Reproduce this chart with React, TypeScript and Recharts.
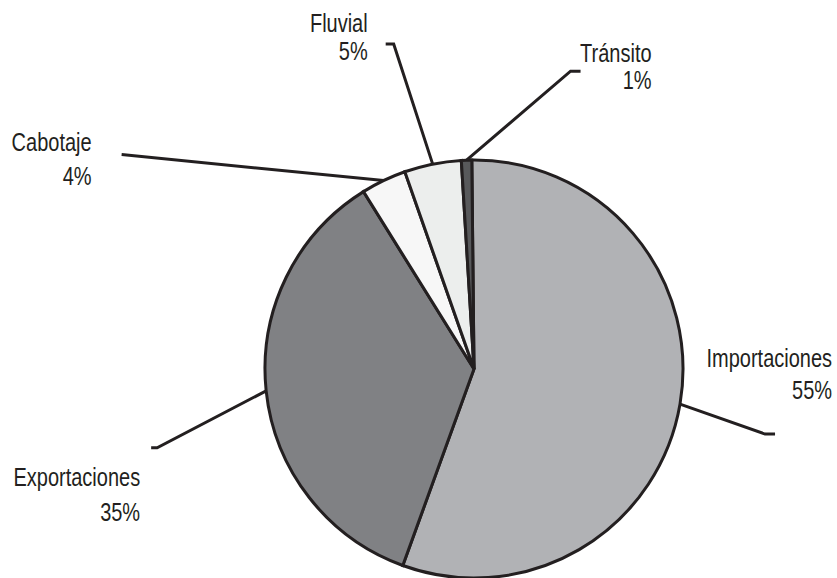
import { Cell, Pie, PieChart } from "recharts";

const categories = ["Importaciones", "Exportaciones", "Cabotaje", "Fluvial", "Tránsito"];
const shares = [55.7, 35.6, 3.5, 4.4, 0.8];
const shareLabels = ["55%", "35%", "4%", "5%", "1%"];

const fills = ["#b1b2b5", "#808184", "#f7f7f7", "#eceeed", "#58595b"];
const stroke = "#231f20";

// leader-line geometry, offsets from the point where the slice's mid-angle meets the rim
const leaders = [
  { elbow: [85, 30], end: [95, 30], textX: 152, lines: [-37, -5] },
  { elbow: [-109, 57], end: [-115, 57], textX: -126, lines: [95, 130] },
  { elbow: [-262, -26], end: [-262, -26], textX: -292, lines: [-30, 4] },
  { elbow: [-39, -120], end: [-47, -120], textX: -65, lines: [-132, -104] },
  { elbow: [104, -89], end: [114, -89], textX: 185, lines: [-98, -71] }
];

const data = categories.map((name, i) => ({ name, value: shares[i], pct: shareLabels[i] }));

const RAD = Math.PI / 180;
const SQUEEZE = 0.8; // condensed look from a regular sans

interface LabelProps {
  cx: number;
  cy: number;
  midAngle: number;
  outerRadius: number;
  index: number;
}

function LeaderLabel({ cx, cy, midAngle, outerRadius, index }: LabelProps) {
  const g = leaders[index];
  const px = cx + outerRadius * Math.cos(-midAngle * RAD);
  const py = cy + outerRadius * Math.sin(-midAngle * RAD);
  const pts = [
    [px, py],
    [px + g.elbow[0], py + g.elbow[1]],
    [px + g.end[0], py + g.end[1]]
  ]
    .map((p) => p.join(","))
    .join(" ");
  const font = {
    fontFamily: "'Liberation Sans', Arial, sans-serif",
    fontSize: 25,
    fill: "#231f20",
    textAnchor: "end" as const
  };
  const tx = px + g.textX;
  return (
    <g>
      <polyline points={pts} fill="none" stroke={stroke} strokeWidth={3} />
      <text transform={`translate(${tx},${py + g.lines[0]}) scale(${SQUEEZE},1)`} {...font}>
        {categories[index]}
      </text>
      <text transform={`translate(${tx},${py + g.lines[1]}) scale(${SQUEEZE},1)`} {...font}>
        {shareLabels[index]}
      </text>
    </g>
  );
}

export default function App() {
  return (
    <div style={{ position: "absolute", left: 0, top: 0, background: "#fff" }}>
      <PieChart width={837} height={578} margin={{ top: 0, right: 0, bottom: 0, left: 0 }}>
        <Pie
          data={data}
          dataKey="value"
          cx={474}
          cy={369}
          outerRadius={209}
          startAngle={90.6}
          endAngle={-269.4}
          stroke={stroke}
          strokeWidth={3}
          labelLine={false}
          label={(props: any) => <LeaderLabel {...props} />}
          isAnimationActive={false}
        >
          {data.map((d, i) => (
            <Cell key={d.name} fill={fills[i]} />
          ))}
        </Pie>
      </PieChart>
    </div>
  );
}
